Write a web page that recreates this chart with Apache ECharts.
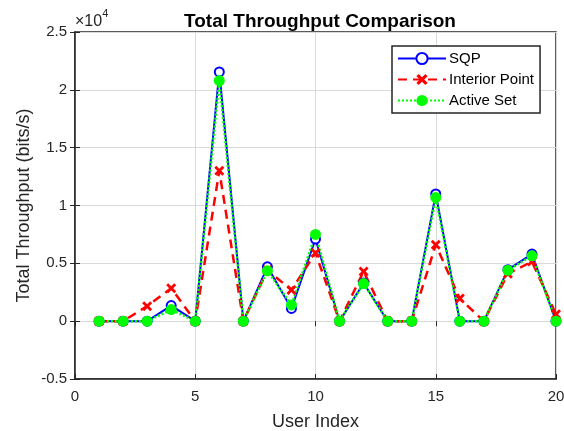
<!DOCTYPE html>
<html>
<head>
<meta charset="utf-8">
<script src="https://cdn.jsdelivr.net/npm/echarts@6/dist/echarts.min.js"></script>
<style>
html,body{margin:0;padding:0;background:#fff;}
#c{width:564px;height:431px;}
</style>
</head>
<body>
<div id="c"></div>
<script>
const userIndex = [1,2,3,4,5,6,7,8,9,10,11,12,13,14,15,16,17,18,19,20];
const sqp = [0,0,0,1350,0,21550,0,4700,1100,7100,0,3300,0,0,11000,0,0,4450,5800,0];
const interiorPoint = [0,0,1300,2850,0,13000,0,4400,2700,5900,0,4300,0,0,6600,1950,0,4100,5150,600];
const activeSet = [0,0,0,1000,0,20800,0,4350,1400,7500,0,3250,0,0,10700,0,0,4400,5650,0];
const yTicks = [-0.5,0,0.5,1,1.5,2,2.5];

const FONT = 'Liberation Sans, Arial, sans-serif';
const pair = (arr) => userIndex.map((x,i)=>[x, arr[i]]);
const xPath = 'path://M0,2 L2,0 L5,3 L8,0 L10,2 L7,5 L10,8 L8,10 L5,7 L2,10 L0,8 L3,5 Z';

const chart = echarts.init(document.getElementById('c'), null, {renderer:'canvas'});
const gridColor = '#d9d9d9';
const axisCol = '#262626';
chart.setOption({
  backgroundColor: '#fff',
  animation: false,
  title: {
    text: 'Total Throughput Comparison',
    left: 315, top: 7, textAlign: 'center',
    textStyle: {fontFamily: FONT, fontSize: 19, fontWeight: 'bold', color: '#000'}
  },
  graphic: [{
    type: 'text', left: 75, top: 8,
    style: {
      text: '{a|×10}{b|4}',
      rich: {
        a: {fontFamily: FONT, fontSize: 16, fill: axisCol, padding:[6,0,0,0]},
        b: {fontFamily: FONT, fontSize: 11, fill: axisCol, verticalAlign:'top'}
      }
    }
  }],
  grid: {left: 75, right: 8, top: 32, bottom: 52, outerBoundsMode: 'none', containLabel: false,
    show: true, borderColor: axisCol, borderWidth: 1.5, backgroundColor:'#fff'},
  legend: {
    orient: 'vertical', left: 392, top: 46,
    backgroundColor: '#fff', borderColor: axisCol, borderWidth: 1.5,
    padding: [5, 6, 5, 5], itemGap: 6, itemWidth: 48, itemHeight: 14,
    textStyle: {fontFamily: FONT, fontSize: 15, color: '#000', padding:[0,0,0,-2]},
    data: ['SQP','Interior Point','Active Set']
  },
  xAxis: [{
    type: 'value', min: 0, max: 20, interval: 5,
    name: 'User Index', nameLocation: 'middle', nameGap: 34,
    nameTextStyle: {fontFamily: FONT, fontSize: 18, color: axisCol},
    axisLine: {show: true, onZero: false, lineStyle: {color: axisCol, width: 1.5}},
    axisTick: {show: true, inside: true, length: 5, lineStyle:{color: axisCol}},
    axisLabel: {fontFamily: FONT, fontSize: 15, color: axisCol, margin: 10},
    splitLine: {show: true, lineStyle: {color: gridColor, width: 1}}
  },{
    type: 'value', min: 0, max: 20, interval: 5, position: 'top',
    axisLine: {show: false}, axisTick: {show: true, inside: true, length: 5, lineStyle:{color: axisCol}},
    axisLabel: {show: false}, splitLine: {show: false}
  }],
  yAxis: [{
    type: 'value', min: -5000, max: 25000, interval: 5000,
    name: 'Total Throughput (bits/s)', nameLocation: 'middle', nameGap: 42, nameMoveOverlap: false,
    nameTextStyle: {fontFamily: FONT, fontSize: 18, color: axisCol},
    axisLine: {show: true, onZero: false, lineStyle: {color: axisCol, width: 1.5}},
    axisTick: {show: true, inside: true, length: 5, lineStyle:{color: axisCol}},
    axisLabel: {fontFamily: FONT, fontSize: 15, color: axisCol, margin: 8,
      formatter: v => { const t = v/10000; return yTicks.includes(t) ? String(t) : ''; }},
    splitLine: {show: true, lineStyle: {color: gridColor, width: 1}}
  },{
    type: 'value', min: -5000, max: 25000, interval: 5000, position: 'right',
    axisLine: {show: false}, axisTick: {show: true, inside: true, length: 5, lineStyle:{color: axisCol}},
    axisLabel: {show: false}, splitLine: {show: false}
  }],
  series: [{
    name: 'SQP', type: 'line', data: pair(sqp),
    symbol: 'emptyCircle', symbolSize: 9, showAllSymbol: true,
    lineStyle: {color: '#0000ff', width: 2, type: 'solid'},
    itemStyle: {color: '#0000ff', borderColor: '#0000ff', borderWidth: 2}
  },{
    name: 'Interior Point', type: 'line', data: pair(interiorPoint),
    symbol: xPath, symbolSize: 10, showAllSymbol: true,
    lineStyle: {color: '#ff0000', width: 2.5, type: [9, 6]},
    itemStyle: {color: '#ff0000'}
  },{
    name: 'Active Set', type: 'line', data: pair(activeSet),
    symbol: 'circle', symbolSize: 11, showAllSymbol: true,
    lineStyle: {color: '#00ff00', width: 2.5, type: [2, 2]},
    itemStyle: {color: '#00ff00'}
  }]
});
</script>
</body>
</html>
